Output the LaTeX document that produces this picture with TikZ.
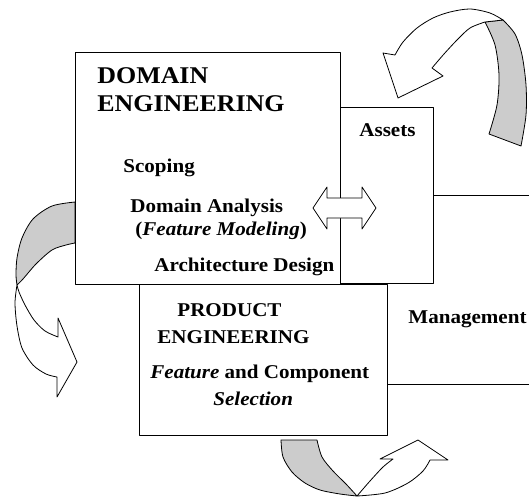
\documentclass[tikz,border=0pt]{standalone}
\usepackage{fontspec}
\setmainfont{Liberation Serif}[FakeStretch=1.08]
\definecolor{ribbon}{RGB}{204,204,204}
\begin{document}
\begin{tikzpicture}[x=1pt,y=-1pt, line width=0.8pt, line join=round,
  lbl/.style={anchor=base west, inner sep=0pt, font=\fontsize{19.5}{22}\selectfont\bfseries},
  ttl/.style={anchor=base west, inner sep=0pt, font=\fontsize{24}{28}\selectfont\bfseries},
  box/.style={draw, fill=white},
  back/.style={draw, fill=ribbon},
  front/.style={draw, fill=white}]
\useasboundingbox (0,0) rectangle (529,497);

% management box (extends beyond right edge)
\begin{scope}
\clip (0,0) rectangle (529,497);
\draw[box] (380,195) rectangle (600,384);
\end{scope}

% curved arrows
% left arrow
\draw[back] (75,202) -- plot[smooth] coordinates {(75,202) (52,206) (33,219) (22,238) (17,258) (16,275) (17,285)}
  -- plot[smooth] coordinates {(17,285) (23,279) (36,264) (52,250) (66,245) (75,243)} -- cycle;
\draw[front] (17,285) -- plot[smooth] coordinates {(17,285) (15,303) (17,326) (22,348) (33,365) (46,374) (57,377)}
  -- (57,397) -- (77,362) -- (58,318) -- (58,337)
  -- plot[smooth] coordinates {(58,337) (45,331) (34,320) (25,305) (19,292) (17,285)} -- cycle;

% top-right arrow
\draw[back] (485,22) -- (503,20)
  -- plot[smooth] coordinates {(503,20) (515,34) (522,55) (526,85) (526,115) (521,146)}
  -- (489,134)
  -- plot[smooth] coordinates {(489,134) (497,105) (499,75) (495,45) (485,22)} -- cycle;
\draw[front] (485,22)
  -- plot[smooth] coordinates {(485,22) (470,28) (457,40) (444,54) (432,68)}
  -- (443,76) -- (398,98) -- (383,53) -- (395,55)
  -- plot[smooth] coordinates {(395,55) (403,42) (417,28) (433,18) (450,12) (470,9) (490,13) (503,20)}
  -- cycle;

% bottom arrow
\draw[back] (281,440)
  -- plot[smooth] coordinates {(281,440) (283,457) (292,472) (305,483) (320,490) (340,494) (357,496)}
  -- plot[smooth] coordinates {(357,496) (346,484) (333,471) (322,457) (317,440)} -- cycle;
\draw[front] (357,496)
  -- plot[smooth] coordinates {(357,496) (370,481) (383,467) (393,459)}
  -- (380,459) -- (418,440) -- (448,460) -- (430,460)
  -- plot[smooth] coordinates {(430,460) (423,471) (408,483) (385,493) (357,496)} -- cycle;

% boxes
\draw[box] (139,284) rectangle (387,435);
\draw[box] (320,107) rectangle (433,283);
\draw[box] (75,52) rectangle (340,284);

% double arrow
\draw[front] (313,208) -- (327,187) -- (327,198) -- (362,198) -- (362,187) -- (376,208)
  -- (362,229) -- (362,218) -- (327,218) -- (327,229) -- cycle;

% texts
\node[ttl] (t1) at (97,84) {DOMAIN};
\node[ttl] (t2) at (97,112) {ENGINEERING};
\node[lbl] (assets) at (359,137) {Assets};
\node[lbl] (scop) at (123,172) {Scoping};
\node[lbl] (da) at (130,212) {Domain Analysis};
\node[lbl] (fm) at (135,235) {(\textit{Feature Modeling})};
\node[lbl] (ad) at (154,271) {Architecture Design};
\node[lbl] (pe1) at (177,316) {PRODUCT};
\node[lbl] (pe2) at (157,343) {ENGINEERING};
\node[lbl] (fc) at (150,378) {\textit{Feature} and Component};
\node[lbl] (sel) at (213,405) {\textit{Selection}};
\node[lbl] (mg) at (408,323) {Management};
\end{tikzpicture}
\end{document}
